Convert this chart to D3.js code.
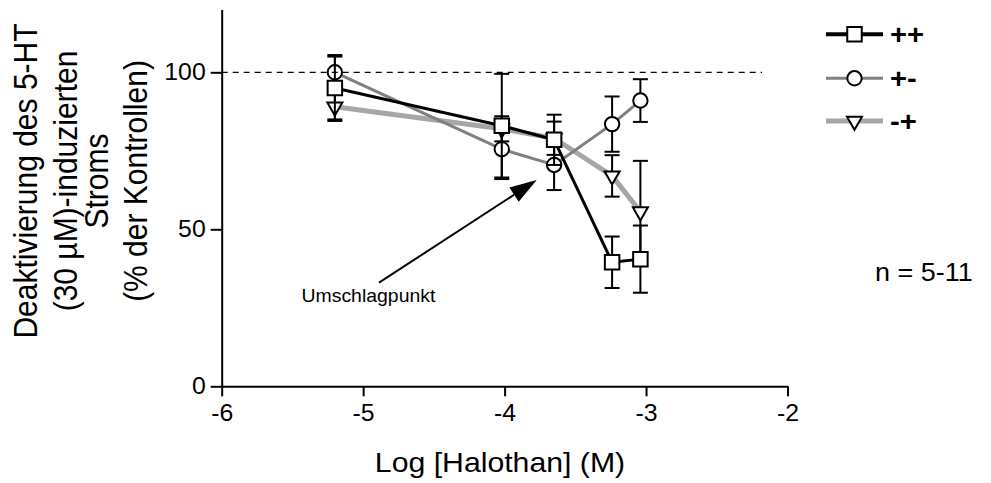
<!DOCTYPE html>
<html>
<head>
<meta charset="utf-8">
<script src="https://cdn.jsdelivr.net/npm/d3@7"></script>
<style>
  body { margin: 0; background: #fff; }
  svg { display: block; }
  text { font-family: "Liberation Sans", Arial, sans-serif; fill: #000; }
</style>
</head>
<body>
<svg id="chart" width="991" height="483"></svg>
<script>
// Log halothan concentration (M) of each measurement
const logConc = [-5.2, -4.02, -3.65, -3.24, -3.04];

// Deactivation of the 5-HT (30 µM) induced current, % of control, mean and SEM
const meanPP = [95, 83, 78.5, 39.5, 40.5];
const semPP  = [10, 16.5, 8, 8.2, 10.7];
const meanPM = [100, 75.5, 70.5, 83.5, 91];
const semPM  = [5.5, 9.5, 8, 8.8, 6.8];
const meanMP = [89, 82, 79, 67, 55.6];
const semMP  = [4.5, 4, 5.3, 6.6, 16.2];

const seriesNames = ["++", "+-", "-+"];
const xTicks = [-6, -5, -4, -3, -2];
const yTicks = [0, 50, 100];
const controlLevel = 100;

// Annotation arrow (data units): tail, tip, and label anchor
const arrowTail = [-4.888, 33.0];
const arrowTip = [-3.773, 65.7];
const arrowLabel = { text: "Umschlagpunkt", x: -5.436, y: 26.9 };
const sampleNote = "n = 5-11";

const SX = 1.08; // slight horizontal widening of the type

const svg = d3.select("#chart");
const x = d3.scaleLinear().domain([-6, -2]).range([221.7, 787.5]);
const y = d3.scaleLinear().domain([0, 120]).range([386.3, 9.5]);

const series = [
  { name: seriesNames[0], mean: meanPP, sem: semPP, color: "#000000", width: 3, lw: 4, shape: "square" },
  { name: seriesNames[1], mean: meanPM, sem: semPM, color: "#808080", width: 3, lw: 3, shape: "circle" },
  { name: seriesNames[2], mean: meanMP, sem: semMP, color: "#a6a6a6", width: 5, lw: 5, shape: "triangle" }
];

function symbolPath(shape) {
  if (shape === "square") return d3.symbol(d3.symbolSquare, 14.5 * 14.5)();
  if (shape === "circle") return d3.symbol(d3.symbolCircle, Math.PI * 7.2 * 7.2)();
  return d3.symbol(d3.symbolTriangle, 98)();
}
function symbolRotate(shape) { return shape === "triangle" ? " rotate(180)" : ""; }

function stretchedText(parent, px, py, str, size, opts = {}) {
  return parent.append("text")
    .attr("transform", `translate(${px},${py}) scale(${SX},1)` + (opts.rotate ? ` rotate(${opts.rotate})` : ""))
    .attr("font-size", size)
    .attr("font-weight", opts.weight || "normal")
    .attr("text-anchor", opts.anchor || "start")
    .text(str);
}

// Axes (plain hyphen minus in the labels)
const fmt = d => String(d);
const xAxis = d3.axisBottom(x).tickValues(xTicks).tickFormat(fmt)
  .tickSize(10).tickSizeOuter(0).tickPadding(8);
const yAxis = d3.axisLeft(y).tickValues(yTicks).tickFormat(fmt)
  .tickSize(11).tickSizeOuter(0).tickPadding(5);

const gx = svg.append("g").attr("transform", `translate(0,${y(0)})`).call(xAxis);
const gy = svg.append("g").attr("transform", `translate(${x(-6)},0)`).call(yAxis);
[gx, gy].forEach(g => {
  g.select(".domain").attr("stroke", "#000").attr("stroke-width", 2);
  g.selectAll(".tick line").attr("stroke", "#000").attr("stroke-width", 2);
  g.selectAll(".tick text").attr("font-size", 23)
    .attr("font-family", '"Liberation Sans", Arial, sans-serif').attr("fill", "#000");
});
gx.selectAll(".tick text").attr("transform", `scale(${SX},1)`);
gy.selectAll(".tick text").attr("transform", `scale(${SX},1)`).attr("x", -16 / SX);

// Axis titles
stretchedText(svg, 500, 472, "Log [Halothan] (M)", 28, { anchor: "middle" });
const yTitle = ["Deaktivierung des 5-HT", "(30 µM)-induzierten", "Stroms", "(% der Kontrollen)"];
const yTitleBase = [37, 77, 108, 147];
yTitle.forEach((t, i) => stretchedText(svg, yTitleBase[i], 181, t, 30, { anchor: "middle", rotate: -90 }));

// Each data set in turn: connecting line, error bars, then markers
const line = d3.line().x((d, i) => x(logConc[i])).y(d => y(d));
const capHalf = 7.5;
[series[2], series[1], series[0]].forEach(s => {
  const g = svg.append("g");
  g.append("path").attr("d", line(s.mean))
    .attr("fill", "none").attr("stroke", s.color).attr("stroke-width", s.width)
    .attr("stroke-linejoin", "round");

  const eb = g.append("g").attr("stroke", "#000").attr("stroke-width", 2);
  s.mean.forEach((m, i) => {
    const cx = x(logConc[i]);
    const top = y(m + s.sem[i]), bot = y(m - s.sem[i]);
    eb.append("line").attr("x1", cx).attr("x2", cx).attr("y1", top).attr("y2", bot);
    eb.append("line").attr("x1", cx - capHalf).attr("x2", cx + capHalf).attr("y1", top).attr("y2", top);
    eb.append("line").attr("x1", cx - capHalf).attr("x2", cx + capHalf).attr("y1", bot).attr("y2", bot);
  });

  g.append("g").selectAll("path").data(s.mean).join("path")
    .attr("d", symbolPath(s.shape))
    .attr("transform", (d, i) => `translate(${x(logConc[i])},${y(d)})` + symbolRotate(s.shape))
    .attr("fill", "#fff").attr("stroke", "#000").attr("stroke-width", 2);
});

// Control reference line
svg.append("line")
  .attr("x1", x(-6)).attr("x2", x(-2.18))
  .attr("y1", y(controlLevel)).attr("y2", y(controlLevel))
  .attr("stroke", "#000").attr("stroke-width", 1.2)
  .attr("stroke-dasharray", "6,5");

// Annotation arrow
const tx = x(arrowTail[0]), ty = y(arrowTail[1]);
const hx = x(arrowTip[0]), hy = y(arrowTip[1]);
const ang = Math.atan2(hy - ty, hx - tx);
const headLen = 27, headHalf = 8.5;
const bx = hx - headLen * Math.cos(ang), by = hy - headLen * Math.sin(ang);
svg.append("line").attr("x1", tx).attr("y1", ty).attr("x2", bx).attr("y2", by)
  .attr("stroke", "#000").attr("stroke-width", 2);
svg.append("path")
  .attr("d", d3.line()([
    [hx, hy],
    [bx + headHalf * Math.sin(ang), by - headHalf * Math.cos(ang)],
    [bx - headHalf * Math.sin(ang), by + headHalf * Math.cos(ang)]
  ]) + "Z")
  .attr("fill", "#000");
stretchedText(svg, x(arrowLabel.x), y(arrowLabel.y), arrowLabel.text, 18);

// Legend
const legendY = [34.3, 78.3, 121];
series.forEach((s, i) => {
  const g = svg.append("g").attr("transform", `translate(0,${legendY[i]})`);
  g.append("line").attr("x1", 826).attr("x2", 883).attr("y1", 0).attr("y2", 0)
    .attr("stroke", s.color).attr("stroke-width", s.lw);
  g.append("path").attr("d", symbolPath(s.shape))
    .attr("transform", `translate(854.5,0)` + symbolRotate(s.shape))
    .attr("fill", "#fff").attr("stroke", "#000").attr("stroke-width", 2);
  stretchedText(g, 890, 9.5, s.name, 27, { weight: "bold" });
});

// Sample size note
stretchedText(svg, 875, 280.7, sampleNote, 25);
</script>
</body>
</html>
